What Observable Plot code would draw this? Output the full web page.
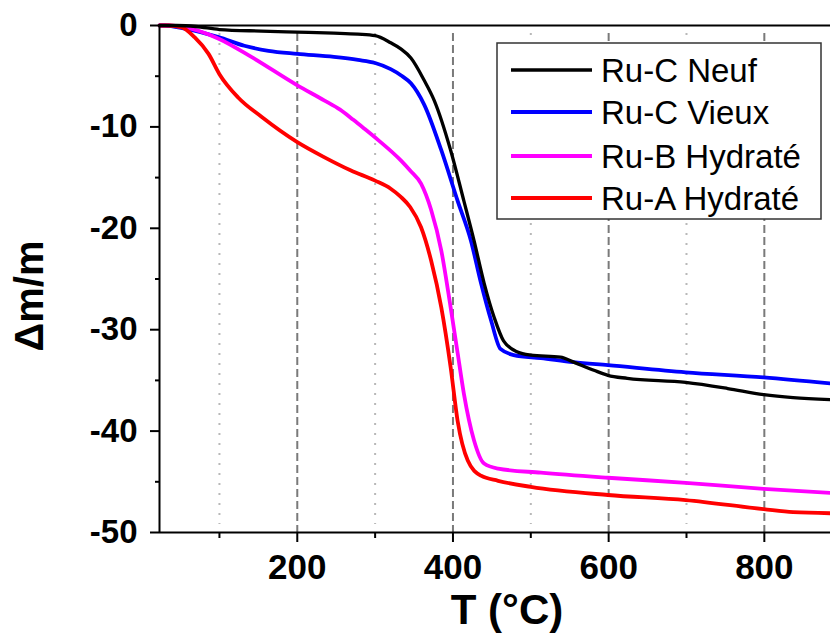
<!DOCTYPE html>
<html>
<head>
<meta charset="utf-8">
<script src="https://cdn.jsdelivr.net/npm/d3@7"></script>
<script src="https://cdn.jsdelivr.net/npm/@observablehq/plot@0.6"></script>
<style>
  html, body { margin: 0; padding: 0; background: #fff; }
</style>
</head>
<body>
<div id="chart"></div>
<script>
// Series names and colours
const seriesNames = ["Ru-C Neuf", "Ru-C Vieux", "Ru-B Hydraté", "Ru-A Hydraté"];
const seriesColors = ["#000000", "#0000ff", "#ff00ff", "#ff0000"];

// Ru-C Neuf
const neufT = [23, 45, 70, 100, 154, 200, 247, 278, 300, 320, 333, 346, 363, 376, 397, 414, 427, 440, 453, 465, 483, 500, 538, 555, 581, 599, 624, 699, 753, 799, 837, 885];
const neufV = [0, 0, -0.1, -0.4, -0.55, -0.65, -0.75, -0.85, -1.0, -1.7, -2.3, -3.2, -5.4, -7.4, -12.3, -17.3, -21.2, -25.4, -28.8, -31.1, -32.2, -32.5, -32.7, -33.2, -34.0, -34.5, -34.8, -35.2, -35.8, -36.4, -36.7, -36.9];

// Ru-C Vieux
const vieuxT = [23, 30, 55, 99, 132, 163, 200, 247, 278, 300, 320, 333, 346, 363, 385, 406, 423, 436, 449, 461, 478, 513, 555, 599, 699, 799, 885];
const vieuxV = [0, 0, -0.3, -1.15, -2.0, -2.5, -2.8, -3.1, -3.4, -3.7, -4.3, -4.9, -5.7, -7.8, -12.3, -17.3, -21.2, -25.4, -29.1, -31.9, -32.5, -32.8, -33.2, -33.5, -34.2, -34.7, -35.3];

// Ru-B Hydraté
const hydrBT = [23, 35, 55, 99, 141, 200, 235, 255, 272, 285, 304, 333, 345, 359, 372, 385, 397, 406, 414, 427, 440, 458, 513, 599, 699, 799, 885];
const hydrBV = [0, 0, -0.16, -1.3, -3.1, -5.9, -7.4, -8.3, -9.3, -10.1, -11.3, -13.3, -14.3, -15.6, -18.2, -22.2, -27.8, -32.3, -36.3, -40.9, -43.2, -43.7, -44.1, -44.6, -45.1, -45.7, -46.1];

// Ru-A Hydraté
const hydrAT = [23, 35, 51, 68, 86, 100, 124, 154, 200, 235, 269, 300, 320, 333, 345, 359, 372, 385, 397, 406, 419, 436, 458, 500, 599, 699, 799, 837, 885];
const hydrAV = [0, 0, -0.16, -1.15, -2.8, -4.8, -7.1, -9.0, -11.5, -13.0, -14.3, -15.3, -16.1, -16.9, -17.9, -19.9, -23.2, -27.8, -33.7, -39.0, -42.9, -44.4, -44.9, -45.5, -46.3, -46.8, -47.7, -48.0, -48.1];

// Ticks
const xMajor = [200, 400, 600, 800];
const xMinor = [100, 300, 500, 700];
const yMajor = [0, -10, -20, -30, -40, -50];
const yMinor = [-5, -15, -25, -35, -45];
const xDomain = [23, 885];
const yDomain = [-50, 0];

const seriesT = [neufT, vieuxT, hydrBT, hydrAT];
const seriesV = [neufV, vieuxV, hydrBV, hydrAV];
const rows = [];
seriesNames.forEach((name, i) => {
  seriesT[i].forEach((t, j) => rows.push({T: t, v: seriesV[i][j], s: name}));
});
const blackRows = rows.filter(d => d.s === seriesNames[0]);
const colorRows = rows.filter(d => d.s !== seriesNames[0]);

const legend = () => {
  const g = d3.create("svg:g");
  g.append("rect")
    .attr("x", 497).attr("y", 43).attr("width", 324).attr("height", 176)
    .attr("fill", "#fff").attr("stroke", "#333").attr("stroke-width", 1.5);
  const rowY = [70, 112, 156, 198];
  seriesNames.forEach((name, i) => {
    g.append("line")
      .attr("x1", 511).attr("x2", 592).attr("y1", rowY[i]).attr("y2", rowY[i])
      .attr("stroke", seriesColors[i]).attr("stroke-width", i === 0 ? 3.3 : 3.8);
    g.append("text")
      .attr("x", 601).attr("y", rowY[i]).attr("dy", "0.36em")
      .attr("text-anchor", "start")
      .attr("font-size", 33).attr("font-weight", "normal")
      .attr("fill", "#000")
      .text(name);
  });
  return g.node();
};

const chart = Plot.plot({
  width: 830,
  height: 633,
  marginLeft: 159,
  marginRight: 0,
  marginTop: 25,
  marginBottom: 101,
  style: {fontFamily: "'Liberation Sans', Arial, sans-serif", fontWeight: "bold", background: "#fff", color: "#000"},
  x: {domain: xDomain},
  y: {domain: yDomain},
  color: {domain: seriesNames, range: seriesColors},
  marks: [
    Plot.ruleX(xMinor, {stroke: "#b8b8b8", strokeWidth: 2, strokeDasharray: "2,8", insetTop: 8, insetBottom: 8}),
    Plot.ruleX(xMajor, {stroke: "#7a7a7a", strokeWidth: 2, strokeDasharray: "8,4", insetTop: 8}),
    Plot.line(colorRows, {x: "T", y: "v", z: "s", stroke: "s", strokeWidth: 3.8, curve: "monotone-x"}),
    Plot.line(blackRows, {x: "T", y: "v", z: "s", stroke: "s", strokeWidth: 3.3, curve: "monotone-x"}),
    Plot.ruleX([xDomain[0]], {stroke: "#000", strokeWidth: 2}),
    Plot.ruleY([yDomain[0], yDomain[1]], {stroke: "#000", strokeWidth: 2}),
    Plot.axisY(yMajor, {tickSize: 9, tickPadding: 13, fontSize: 33, strokeWidth: 2, label: null, tickFormat: d => String(d)}),
    Plot.axisY(yMinor, {tickSize: 4, strokeWidth: 2, tickFormat: () => "", label: null}),
    Plot.axisX(xMajor, {tickSize: 10, tickPadding: 12, fontSize: 35, strokeWidth: 2, label: null, tickFormat: d => String(d)}),
    Plot.axisX(xMinor, {tickSize: 6, strokeWidth: 2, tickFormat: () => "", label: null}),
    Plot.text(["T (°C)"], {frameAnchor: "bottom", lineAnchor: "bottom", textAnchor: "middle", dx: 12, dy: 91, fontSize: 42, fontWeight: "bold"}),
    Plot.text(["Δm/m"], {frameAnchor: "left", lineAnchor: "bottom", textAnchor: "middle", rotate: -90, dx: -117, dy: 17, fontSize: 40, fontWeight: "bold"}),
    legend
  ]
});
document.getElementById("chart").appendChild(chart);
</script>
</body>
</html>
